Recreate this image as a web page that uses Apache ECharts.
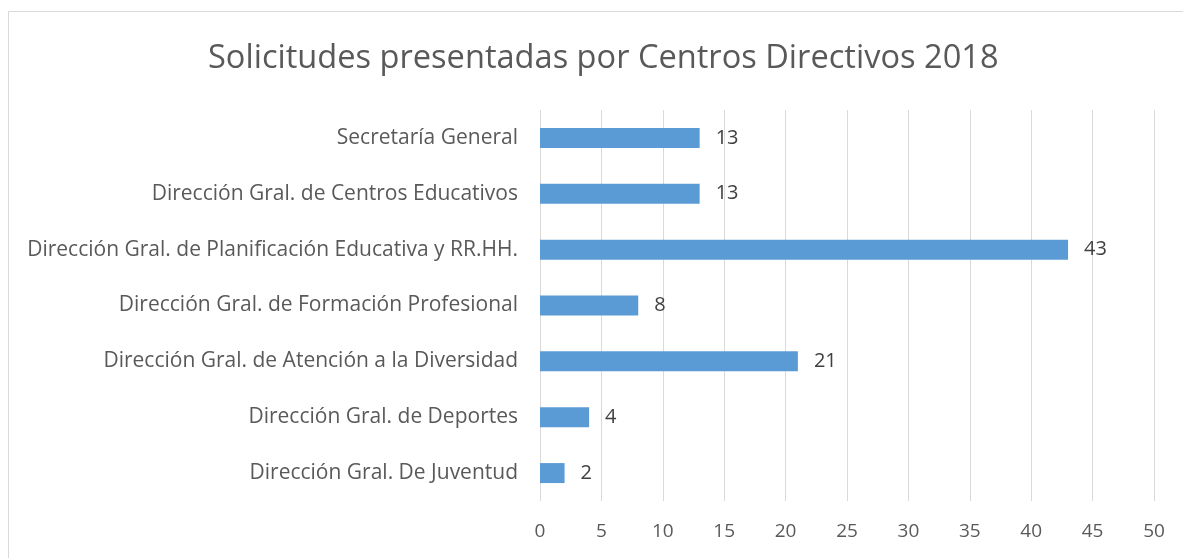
<!DOCTYPE html>
<html>
<head>
<meta charset="utf-8">
<script src="https://cdn.jsdelivr.net/npm/echarts@6/dist/echarts.min.js"></script>
<style>
  html, body { margin: 0; padding: 0; background: #fff; }
  #chart { width: 1183px; height: 558px; }
</style>
</head>
<body>
<div id="chart"></div>
<script>
// categories bottom to top (as ECharts draws category y axis)
var centros = [
  'Dirección Gral. De Juventud',
  'Dirección Gral. de Deportes',
  'Dirección Gral. de Atención a la Diversidad',
  'Dirección Gral. de Formación Profesional',
  'Dirección Gral. de Planificación Educativa y RR.HH.',
  'Dirección Gral. de Centros Educativos',
  'Secretaría General'
];
var solicitudes = [2, 4, 21, 8, 43, 13, 13];

var chart = echarts.init(document.getElementById('chart'));
var fuente = 'Open Sans';
var option = {
  backgroundColor: '#fff',
  animation: false,
  title: {
    text: 'Solicitudes presentadas por Centros Directivos 2018',
    left: 203,
    top: 37,
    textStyle: { fontFamily: fuente, fontSize: 32.6, fontWeight: 'normal', color: '#595959' }
  },
  graphic: [{
    type: 'rect',
    shape: { x: 8.5, y: 11.5, width: 1200, height: 600 },
    style: { fill: 'none', stroke: '#d9d9d9', lineWidth: 1 },
    silent: true
  }],
  grid: { left: 540, right: 29, top: 110, bottom: 57 },
  xAxis: {
    type: 'value',
    min: 0,
    max: 50,
    interval: 5,
    axisLine: { show: false },
    axisTick: { show: false },
    axisLabel: { fontFamily: fuente, fontSize: 19, color: '#595959', margin: 21 },
    splitLine: { lineStyle: { color: '#d9d9d9', width: 1 } }
  },
  yAxis: {
    type: 'category',
    data: centros,
    axisLine: { show: false },
    axisTick: { show: false },
    axisLabel: { fontFamily: fuente, fontSize: 21, color: '#595959', margin: 22 }
  },
  series: [{
    type: 'bar',
    data: solicitudes,
    barWidth: 20,
    itemStyle: { color: '#5b9bd5' },
    label: {
      show: true,
      position: 'right',
      distance: 16,
      fontFamily: fuente,
      fontSize: 20,
      color: '#404040'
    }
  }]
};
chart.setOption(option);
</script>
</body>
</html>
